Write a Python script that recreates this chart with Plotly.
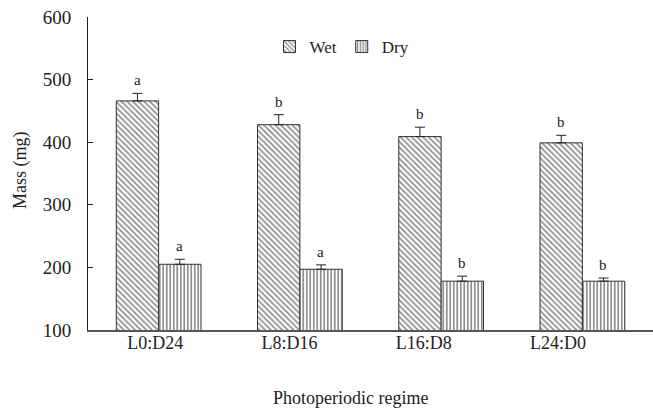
import plotly.graph_objects as go

categories = ["L0:D24", "L8:D16", "L16:D8", "L24:D0"]
wet = [466, 428, 409, 399]
wet_err = [12, 16, 15, 12]
dry = [205, 197, 178, 178]
dry_err = [8, 7, 8, 5]
wet_letters = ["a", "b", "b", "b"]
dry_letters = ["a", "a", "b", "b"]

FONT = "Liberation Serif"

fig = go.Figure()
# invisible helper trace that carries the category tick labels (placed as in the original)
fig.add_trace(go.Scatter(x=categories, y=wet, xaxis="x2", mode="markers",
                         marker=dict(opacity=0), showlegend=False, hoverinfo="skip"))
fig.add_trace(go.Bar(
    name="Wet", x=categories, y=wet,
    marker=dict(color="white", line=dict(color="#333", width=1),
                pattern=dict(shape="\\", fgcolor="#222", bgcolor="white", size=4, solidity=0.45)),
    error_y=dict(type="data", array=wet_err, symmetric=False, arrayminus=[0]*4,
                 color="#222", thickness=1, width=5),
))
fig.add_trace(go.Bar(
    name="Dry", x=categories, y=dry,
    marker=dict(color="white", line=dict(color="#333", width=1),
                pattern=dict(shape="|", fgcolor="#222", bgcolor="white", size=3.5, solidity=0.5)),
    error_y=dict(type="data", array=dry_err, symmetric=False, arrayminus=[0]*4,
                 color="#222", thickness=1, width=5),
))

W, H = 653, 411
ml, mr, mt, mb = 88, 0, 17, 81
pw, ph = W - ml - mr, H - mt - mb

annotations = []
for i, c in enumerate(categories):
    annotations.append(dict(x=c, y=wet[i] + wet_err[i], text=wet_letters[i], showarrow=False,
                            xshift=-21, yshift=3, yanchor="bottom", xref="x", yref="y",
                            font=dict(family=FONT, size=15, color="#222")))
    annotations.append(dict(x=c, y=dry[i] + dry_err[i], text=dry_letters[i], showarrow=False,
                            xshift=21, yshift=3, yanchor="bottom", xref="x", yref="y",
                            font=dict(family=FONT, size=15, color="#222")))
annotations.append(dict(text="Mass (mg)", x=(20 - ml) / pw, y=(H - mb - 170) / ph,
                        xref="paper", yref="paper", showarrow=False, textangle=-90,
                        xanchor="center", yanchor="middle",
                        font=dict(family=FONT, size=18, color="#222")))
annotations.append(dict(text="Photoperiodic regime", x=(350 - ml) / pw, y=(H - mb - 386) / ph,
                        xref="paper", yref="paper", showarrow=False,
                        xanchor="center", yanchor="top",
                        font=dict(family=FONT, size=18, color="#222")))

label_domain_end = 537 / pw

fig.update_layout(
    width=W, height=H,
    margin=dict(l=ml, r=mr, t=mt, b=mb, pad=0),
    paper_bgcolor="white", plot_bgcolor="rgba(0,0,0,0)",
    barmode="group", bargap=0.4, bargroupgap=0,
    font=dict(family=FONT, size=16, color="#222"),
    showlegend=True,
    legend=dict(orientation="h", x=(342 - ml) / pw, y=(H - mb - 47) / ph,
                xanchor="center", yanchor="middle",
                font=dict(family=FONT, size=17, color="#222"), bgcolor="rgba(0,0,0,0)",
                itemwidth=30),
    annotations=annotations,
    xaxis=dict(showline=True, linecolor="#555", linewidth=2, ticks="",
               showticklabels=False, showgrid=False),
    xaxis2=dict(domain=[0, label_domain_end], anchor="y", type="category",
                range=[-0.5, 3.5],
                showline=False, ticks="", showgrid=False, zeroline=False,
                tickfont=dict(family=FONT, size=18), side="bottom"),
    yaxis=dict(range=[100, 600], tickvals=[100, 200, 300, 400, 500, 600],
               showline=True, linecolor="#222", linewidth=1, ticks="inside", ticklen=5,
               tickcolor="#222", showgrid=False, zeroline=False,
               tickfont=dict(family=FONT, size=19), ticklabelstandoff=12),
)

fig.write_html("out.html", config={"displayModeBar": False},
               post_script="document.body.style.margin='0';document.body.style.overflow='hidden';")
